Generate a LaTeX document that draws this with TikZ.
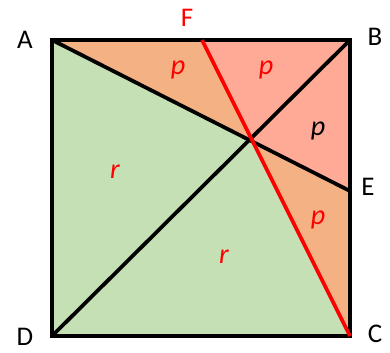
\documentclass[tikz,border=0pt]{standalone}
\usepackage{fontspec}
\setmainfont{Carlito}
\usetikzlibrary{calc}
\definecolor{orng}{HTML}{F4B183}
\definecolor{salmon}{HTML}{FFAA96}
\definecolor{grn}{HTML}{C5E0B4}
\tikzset{
  edge/.style={line width=3.2pt},
  lbl/.style={font=\fontsize{23}{26}\selectfont},
  area/.style={font=\fontsize{24}{27}\selectfont\itshape}
}

\begin{document}
\begin{tikzpicture}[x=0.03cm,y=-0.03cm]
   \useasboundingbox (0,0) rectangle (390,352);
   \coordinate (A) at (52,40);
   \coordinate (B) at (350,40);
   \coordinate (C) at (350,336);
   \coordinate (D) at (52,336);
   \coordinate (E) at (350,191);
   \coordinate (F) at (202,40);
   \coordinate (O) at (250,139.5);
   % regions
   \fill[orng] (A) -- (F) -- (O) -- cycle;
   \fill[salmon] (F) -- (B) -- (E) -- (O) -- cycle;
   \fill[orng] (O) -- (E) -- (C) -- cycle;
   \fill[grn] (A) -- (O) -- (C) -- (D) -- cycle;
   % lines
   \draw[edge] (A) -- (E);
   \draw[edge] (D) -- (B);
   \draw[edge] (A) -- (B) -- (C) -- (D) -- cycle;
   \draw[edge,red] (F) -- (C);
   % labels
   \node[lbl] (lA) at (25,40) {A};
   \node[lbl] (lB) at (375,37) {B};
   \node[lbl] (lC) at (375,334) {C};
   \node[lbl] (lD) at (25,337) {D};
   \node[lbl] (lE) at (368,187) {E};
   \node[lbl,red] (lF) at (187,18) {F};
   \node[area,red] (p1) at (178,70) {p};
   \node[area,red] (p2) at (266,70) {p};
   \node[area] (p3) at (318,131) {p};
   \node[area,red] (p4) at (318,220) {p};
   \node[area,red] (r1) at (115,172) {r};
   \node[area,red] (r2) at (224,257) {r};
\end{tikzpicture}
\end{document}
